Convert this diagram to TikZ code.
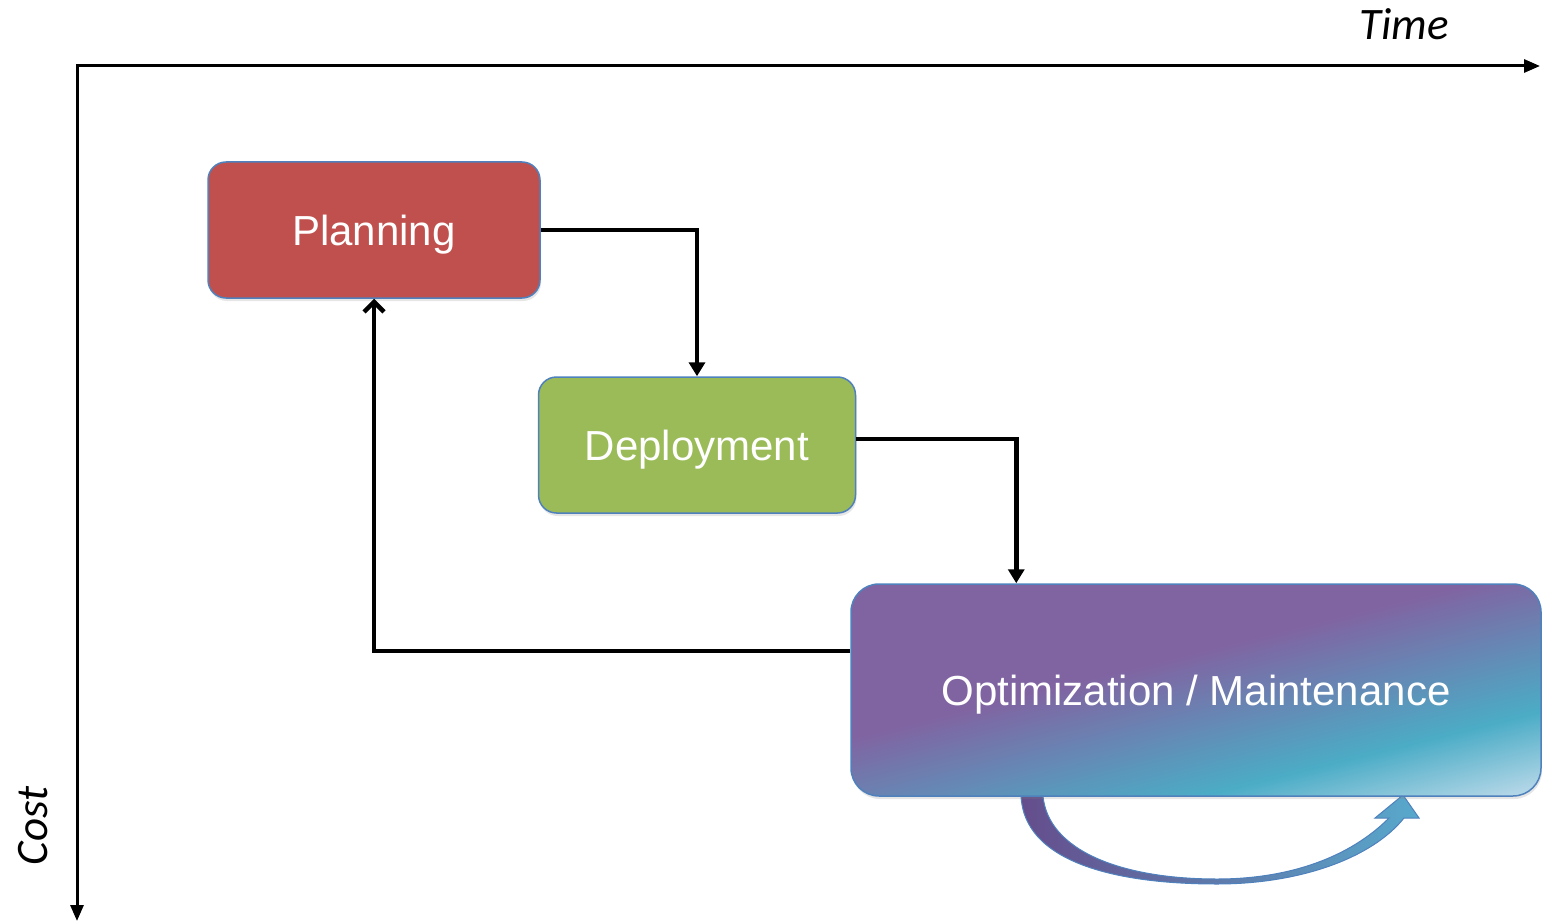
\documentclass[tikz,border=0pt]{standalone}
\usepackage{fontspec}
\setmainfont{Liberation Sans}
\newfontfamily\axisfont{Carlito}
\usetikzlibrary{arrows.meta,shadows}

\definecolor{planred}{HTML}{C0504D}
\definecolor{depgreen}{HTML}{9BBB59}
\definecolor{edgeblue}{HTML}{4F81BD}
\definecolor{optpurple}{HTML}{8064A2}
\definecolor{optteal}{HTML}{4BACC6}
\definecolor{optlight}{HTML}{BCDAEA}
\definecolor{arcpurple}{HTML}{654D8C}
\definecolor{arcteal}{HTML}{58A9CC}

\pgfdeclareverticalshading{optshade}{100bp}{color(0bp)=(optlight); color(20bp)=(optlight); color(33bp)=(optteal); color(56bp)=(optpurple); color(100bp)=(optpurple)}

\begin{document}
\begin{tikzpicture}[x=1pt,y=-1pt,
    box/.style={draw=edgeblue, line width=1.5pt, rounded corners=18pt, text=white,
        font=\fontsize{42}{50}\selectfont, inner sep=0pt, text depth=0pt,
        drop shadow={opacity=0.2, shadow xshift=1pt, shadow yshift=-3pt}},
    axis/.style={line width=3pt, {Triangle[length=16pt,width=13pt]}-{Triangle[length=16pt,width=13pt]}},
    link/.style={line width=4.5pt, -{Triangle[length=14pt,width=16pt]}},
    back/.style={line width=4.5pt, -{Straight Barb[length=10pt,width=20pt]}},
    axislabel/.style={font=\axisfont\itshape\fontsize{45}{54}\selectfont}]
  \useasboundingbox (0,0) rectangle (1542,923);

  % axes
  \coordinate (origin) at (77,66);
  \coordinate (timeend) at (1540,66);
  \coordinate (costend) at (77,921);
  \draw[axis] (costend) -- (origin) -- (timeend);
  \node[axislabel] (time) at (1404,24) {Time};
  \node[axislabel, rotate=90] (cost) at (33,826) {Cost};

  % loop under the last phase
  \shade[left color=arcpurple, right color=arcteal, draw=edgeblue, line width=1pt]
    (1021,796) .. controls (1024,860) and (1110,884) .. (1217,884)
    .. controls (1300,884) and (1372,858) .. (1404,818)
    -- (1419,818) -- (1403,795) -- (1375,818) -- (1389,818)
    .. controls (1350,857) and (1290,879) .. (1217,879)
    .. controls (1120,879) and (1048,850) .. (1043,796) -- cycle;

  % phases
  \node[box, fill=planred, minimum width=332pt, minimum height=136pt] (plan) at (374,230) {Planning};
  \node[box, fill=depgreen, minimum width=317pt, minimum height=136pt] (dep) at (697,445) {Deployment};
  \node[box, rounded corners=28pt, shading=optshade, shading angle=14,
        minimum width=690pt, minimum height=212pt] (opt) at (1196,690) {Optimization / Maintenance};

  \draw[link] (plan.east) -| (dep.north);
  \draw[link] ([yshift=6pt]dep.east) -| ([xshift=166pt]opt.north west);
  \draw[back] ([yshift=39pt]opt.west) -| (plan.south);
\end{tikzpicture}
\end{document}
